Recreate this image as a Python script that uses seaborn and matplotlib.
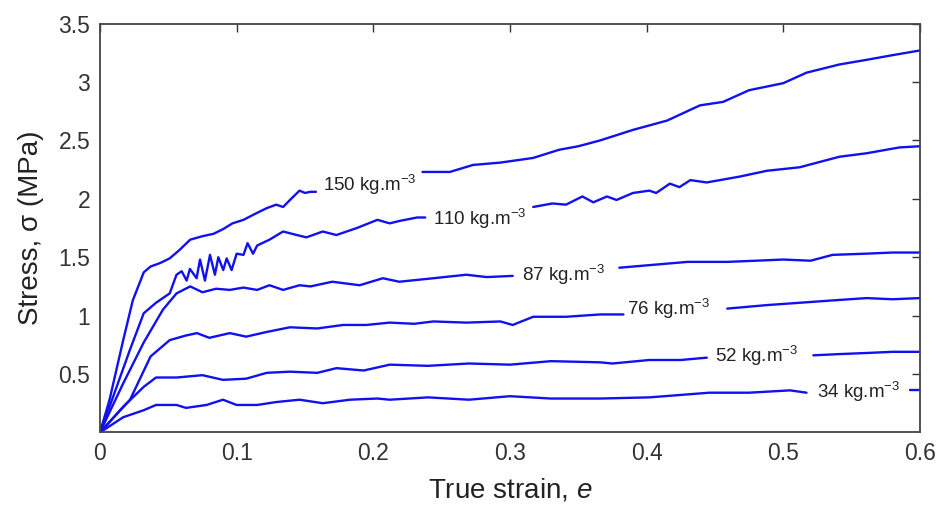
import numpy as np
import pandas as pd
import seaborn as sns
import matplotlib.pyplot as plt

# stress-strain curves, each cut in two where the density label sits
strain_150_a = [0, 0.007, 0.017, 0.024, 0.032, 0.037, 0.044, 0.051, 0.058, 0.066, 0.075, 0.083, 0.090,
                0.097, 0.105, 0.115, 0.122, 0.129, 0.134, 0.139, 0.146, 0.150, 0.154, 0.158]
stress_150_a = [0, 0.28, 0.79, 1.13, 1.37, 1.42, 1.45, 1.49, 1.56, 1.65, 1.68, 1.70, 1.74,
                1.79, 1.82, 1.88, 1.92, 1.95, 1.93, 1.99, 2.07, 2.05, 2.06, 2.06]
strain_150_b = [0.236, 0.256, 0.273, 0.293, 0.317, 0.336, 0.350, 0.366, 0.390, 0.415, 0.439, 0.456,
                0.475, 0.500, 0.517, 0.541, 0.561, 0.580, 0.600]
stress_150_b = [2.23, 2.23, 2.29, 2.31, 2.35, 2.42, 2.45, 2.50, 2.59, 2.67, 2.80, 2.83,
                2.93, 2.99, 3.08, 3.15, 3.19, 3.23, 3.27]

strain_110_a = [0, 0.007, 0.022, 0.032, 0.041, 0.051, 0.056, 0.0598, 0.0634, 0.0658, 0.0707, 0.0732,
                0.0768, 0.0805, 0.0841, 0.0866, 0.0902, 0.0927, 0.0963, 0.100, 0.105, 0.108, 0.112,
                0.115, 0.124, 0.134, 0.144, 0.151, 0.163, 0.173, 0.188, 0.203, 0.212, 0.219, 0.232, 0.238]
stress_110_a = [0, 0.22, 0.71, 1.02, 1.11, 1.19, 1.35, 1.38, 1.30, 1.40, 1.32, 1.48,
                1.30, 1.52, 1.35, 1.50, 1.39, 1.49, 1.39, 1.53, 1.52, 1.62, 1.53,
                1.60, 1.65, 1.72, 1.69, 1.67, 1.72, 1.69, 1.75, 1.82, 1.79, 1.81, 1.84, 1.84]
strain_110_b = [0.317, 0.331, 0.341, 0.353, 0.361, 0.371, 0.378, 0.390, 0.402, 0.407, 0.417, 0.424,
                0.432, 0.444, 0.468, 0.488, 0.512, 0.541, 0.561, 0.585, 0.600]
stress_110_b = [1.93, 1.96, 1.95, 2.02, 1.97, 2.02, 1.99, 2.05, 2.07, 2.05, 2.13, 2.10,
                2.16, 2.14, 2.19, 2.24, 2.27, 2.36, 2.39, 2.44, 2.45]

strain_87_a = [0, 0.017, 0.032, 0.046, 0.056, 0.066, 0.075, 0.085, 0.095, 0.105, 0.115, 0.124,
               0.134, 0.146, 0.154, 0.170, 0.190, 0.207, 0.219, 0.244, 0.268, 0.283, 0.302]
stress_87_a = [0, 0.42, 0.77, 1.05, 1.19, 1.25, 1.20, 1.23, 1.22, 1.24, 1.22, 1.26,
               1.22, 1.26, 1.25, 1.29, 1.26, 1.32, 1.29, 1.32, 1.35, 1.33, 1.34]
strain_87_b = [0.380, 0.400, 0.430, 0.459, 0.480, 0.500, 0.520, 0.536, 0.560, 0.580, 0.600]
stress_87_b = [1.41, 1.43, 1.46, 1.46, 1.47, 1.48, 1.47, 1.52, 1.53, 1.54, 1.54]

strain_76_a = [0, 0.022, 0.037, 0.051, 0.063, 0.071, 0.080, 0.095, 0.107, 0.122, 0.139, 0.159,
               0.178, 0.195, 0.212, 0.230, 0.244, 0.268, 0.293, 0.302, 0.317, 0.341, 0.366, 0.383]
stress_76_a = [0, 0.28, 0.65, 0.79, 0.83, 0.85, 0.81, 0.85, 0.82, 0.86, 0.90, 0.89,
               0.92, 0.92, 0.94, 0.93, 0.95, 0.94, 0.95, 0.92, 0.99, 0.99, 1.01, 1.01]
strain_76_b = [0.459, 0.488, 0.512, 0.536, 0.561, 0.580, 0.600]
stress_76_b = [1.06, 1.09, 1.11, 1.13, 1.15, 1.14, 1.15]

strain_52_a = [0, 0.017, 0.032, 0.041, 0.056, 0.075, 0.090, 0.107, 0.122, 0.139, 0.159, 0.173,
               0.193, 0.212, 0.240, 0.270, 0.300, 0.330, 0.366, 0.375, 0.402, 0.425, 0.444]
stress_52_a = [0, 0.22, 0.39, 0.47, 0.47, 0.49, 0.45, 0.46, 0.51, 0.52, 0.51, 0.55,
               0.53, 0.58, 0.57, 0.59, 0.58, 0.61, 0.60, 0.59, 0.62, 0.62, 0.64]
strain_52_b = [0.522, 0.540, 0.561, 0.580, 0.600]
stress_52_b = [0.66, 0.67, 0.68, 0.69, 0.69]

strain_34_a = [0, 0.017, 0.032, 0.041, 0.056, 0.063, 0.078, 0.090, 0.100, 0.115, 0.129, 0.146,
               0.163, 0.183, 0.203, 0.212, 0.240, 0.270, 0.300, 0.330, 0.366, 0.402, 0.446,
               0.475, 0.505, 0.517]
stress_34_a = [0, 0.13, 0.19, 0.235, 0.235, 0.21, 0.235, 0.28, 0.235, 0.235, 0.26, 0.28,
               0.25, 0.28, 0.29, 0.28, 0.30, 0.28, 0.31, 0.29, 0.29, 0.30, 0.34,
               0.34, 0.36, 0.34]
strain_34_b = [0.593, 0.600]
stress_34_b = [0.36, 0.36]

densities = ['150', '110', '87', '76', '52', '34']
label_x = [0.163, 0.244, 0.3085, 0.386, 0.450, 0.5245]
label_y = [2.07, 1.78, 1.30, 1.005, 0.60, 0.295]

segments = [
    ('150a', strain_150_a, stress_150_a), ('150b', strain_150_b, stress_150_b),
    ('110a', strain_110_a, stress_110_a), ('110b', strain_110_b, stress_110_b),
    ('87a', strain_87_a, stress_87_a), ('87b', strain_87_b, stress_87_b),
    ('76a', strain_76_a, stress_76_a), ('76b', strain_76_b, stress_76_b),
    ('52a', strain_52_a, stress_52_a), ('52b', strain_52_b, stress_52_b),
    ('34a', strain_34_a, stress_34_a), ('34b', strain_34_b, stress_34_b),
]
df = pd.concat([pd.DataFrame({'strain': s, 'stress': t, 'seg': name}) for name, s, t in segments],
               ignore_index=True)

sns.set_style('white')
plt.rcParams['font.family'] = ['Liberation Sans', 'DejaVu Sans']
plt.rcParams['mathtext.fontset'] = 'custom'
plt.rcParams['mathtext.rm'] = 'Liberation Sans'
plt.rcParams['mathtext.it'] = 'Liberation Sans:italic'

fig = plt.figure(figsize=(9.45, 5.11), dpi=100)
ax = fig.add_axes([0.1058, 0.1538, 0.8677, 0.8])

sns.lineplot(data=df, x='strain', y='stress', units='seg', estimator=None, sort=False,
             color='#1010f0', linewidth=1.7, ax=ax, solid_joinstyle='round')

for d, lx, ly in zip(densities, label_x, label_y):
    ax.text(lx, ly, d + r' kg.m$^{-3}$', fontsize=13.5, color='#222222', va='baseline', ha='left')

ax.set_xlim(0, 0.6)
ax.set_ylim(0, 3.5)
ax.set_xticks([0, 0.1, 0.2, 0.3, 0.4, 0.5, 0.6])
ax.set_xticklabels(['0', '0.1', '0.2', '0.3', '0.4', '0.5', '0.6'])
ax.set_yticks([0.5, 1, 1.5, 2, 2.5, 3, 3.5])
ax.set_yticklabels(['0.5', '1', '1.5', '2', '2.5', '3', '3.5'])
ax.tick_params(direction='in', length=6, width=1, top=True, right=True, labelsize=16.5,
               colors='#333333', pad=7)
for sp in ax.spines.values():
    sp.set_color('#444444')
    sp.set_linewidth(1.3)

ax.set_xlabel(r'True strain, $\it{e}$', fontsize=20, color='#222222', labelpad=8)
ax.set_ylabel('Stress, σ (MPa)', fontsize=20, color='#222222', labelpad=10)

fig.savefig('out.png', dpi=100)
